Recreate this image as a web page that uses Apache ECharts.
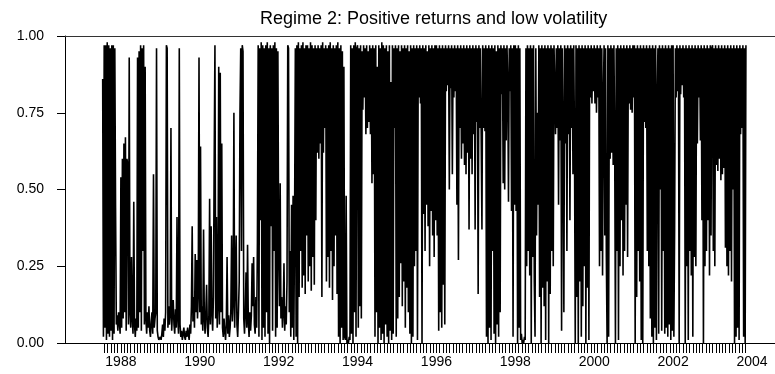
<!DOCTYPE html>
<html>
<head>
<meta charset="utf-8">
<script src="https://cdn.jsdelivr.net/npm/echarts@6/dist/echarts.min.js"></script>
<style>
html,body{margin:0;padding:0;background:#fff;}
#chart{width:775px;height:374px;}
</style>
</head>
<body>
<div id="chart"></div>
<script>
// Weekly smoothed probability of regime 2.
// 1987 starts at week 28 (mid-July 1987).
const firstWeek1987 = 28;
const w1987 = [.86,.02,.97,.05,.97,.01,.98,.03,.97,.02,.96,.04,.97,.01,.97,.03,.96,.44,.06,.09,.04,.1,.07,.03];
const w1988 = [.54,.05,.6,.08,.65,.1,.67,.04,.6,.58,.06,.93,.1,.05,.28,.08,.03,.46,.06,.02,.08,.04,.93,.05,.95,.1,.97,.04,.96,.3,.97,.06,.9,.08,.03,.1,.05,.12,.04,.02,.07,.1,.03,.55,.05,.08,.1,.96,.04,.02,.01,.01];
const w1989 = [.02,.01,.03,.06,.02,.08,.04,.1,.97,.96,.05,.12,.06,.09,.7,.04,.1,.14,.06,.03,.11,.05,.41,.08,.03,.96,.06,.02,.04,.01,.03,.05,.02,.01,.04,.02,.05,.03,.01,.06,.03,.12,.38,.07,.15,.05,.29,.1,.27,.08,.16,.93];
const w1990 = [.1,.64,.06,.12,.04,.37,.08,.03,.1,.19,.05,.02,.09,.47,.06,.38,.1,.04,.15,.59,.97,.08,.41,.05,.12,.9,.06,.88,.1,.65,.05,.02,.08,.04,.01,.06,.28,.03,.09,.02,.05,.11,.35,.07,.13,.75,.05,.2,.35,.06,.02,.1];
const w1991 = [.2,.75,.96,.3,.97,.95,.08,.03,.1,.23,.05,.32,.07,.02,.1,.04,.09,.26,.12,.28,.06,.03,.15,.05,.33,.97,.02,.96,.4,.98,.01,.97,.05,.96,.02,.97,.1,.98,.03,.96,0,.97,.38,.96,.04,.97,.3,.98,.02,.96,.05,.95];
const w1992 = [.3,.12,.52,.08,.15,.05,.1,.26,.04,.12,.06,.2,.97,.96,.1,.3,.02,.45,.05,.48,.01,.4,.96,.02,.97,0,.98,.15,.96,.3,.97,.18,.98,.22,.96,.16,.97,.35,.97,.2,.96,.25,.98,.17,.97,.28,.96,.19,.97,.4,.96,.62];
const w1993 = [.97,.6,.96,.65,.97,.15,.98,.62,.96,.7,.97,.2,.96,.28,.97,.18,.98,.3,.96,.14,.97,.25,.96,.35,.97,.16,.98,.02,.96,0,.97,.05,.95,.01,.9,.02,.01,.48,0,.01,0,.02,.01,.97,.03,.96,0,.97,.1,.98,.02,.96];
const w1994 = [.97,.05,.96,.12,.97,.08,.95,.76,.97,.8,.96,.68,.97,.7,.95,.72,.97,.68,.96,.52,.97,.55,.96,.02,.97,.1,.9,0,.97,.05,.96,.01,.98,.03,.97,0,.96,.06,.97,.02,.95,0,.97,.04,.85,.01,.97,.03,.96,.7,.97,.02];
const w1995 = [.96,.08,.97,.15,.95,.26,.97,.12,.96,.2,.97,.05,.96,.18,.97,.1,.95,.03,.97,0,.96,.02,.97,.25,.96,.3,.97,.01,.96,.8,.97,.78,.96,0,.97,.42,.96,.3,.97,.45,.95,.38,.97,.25,.96,.43,.97,.35,.96,.28,.97,.4];
const w1996 = [.97,.35,.96,.04,.97,.1,.96,.05,.97,.19,.96,.06,.97,.82,.96,.84,.97,.5,.96,.83,.97,.55,.96,.8,.97,.82,.96,.45,.97,.27,.96,.7,.97,.6,.96,.65,.97,.58,.96,.55,.97,.62,.96,.37,.97,.6,.96,.55,.97,.68,.96,.37];
const w1997 = [.97,.72,.96,.16,.97,.7,.96,.68,.37,.97,.7,.96,.69,.97,.02,.96,0,.97,.05,.96,.01,.97,.3,.96,.03,.97,0,.95,.06,.97,.02,.96,.1,.97,.81,.96,.52,.97,.5,.96,.66,.97,.85,.46,.96,.82,.97,.43,.96,.02,.97,.45];
const w1998 = [.97,.43,.96,0,.97,.05,.96,.01,.03,0,.01,0,.02,.01,.96,.25,.97,.3,.96,.22,.97,0,.96,.28,.97,.2,.02,.96,.35,.75,.45,.97,.15,.96,0,.97,.18,.96,.12,.97,.01,.96,.2,.97,0,.96,.16,.97,.3,.96,.25,.97];
const w1999 = [.97,.68,.96,.7,.97,.45,.96,.66,.97,.04,.96,.7,.1,.97,.65,.96,.3,.97,.68,.96,.4,.97,.7,.96,.55,.97,.66,0,.97,.15,.96,0,.97,.2,.96,.02,.97,.12,.96,.25,.97,0,.96,.18,.97,.01,.96,.8,.97,.78,.96,.82];
const w2000 = [.97,.78,.96,.75,.97,.8,.96,.25,.97,.3,.96,.22,.8,.97,.35,.96,.28,0,.97,.02,.96,.6,.97,.62,.96,.58,.97,.65,0,.96,.3,.97,.01,.96,.25,.97,.4,.96,.22,.97,.3,.96,.45,.97,.28,.96,.78,.97,.76,.96,.75,.97];
const w2001 = [.8,.97,0,.96,.15,.97,.3,.96,.2,.97,.01,.96,0,.97,.72,.96,.7,.97,.3,.96,.25,.97,.08,.96,.02,.97,0,.96,.05,.97,.01,.8,.96,.03,.97,.5,.96,.04,.97,.3,.96,.03,.97,.05,.96,.02,.97,.06,.96,.01,.97,.04];
const w2002 = [.97,.02,.37,.96,.8,.97,.82,.96,0,.97,.81,.96,.84,.97,.8,.96,0,.97,.25,.96,.01,.97,.3,.96,.22,.97,.02,.96,.28,.97,.25,.96,.65,.97,.8,.96,.66,.97,.4,.96,0,.97,.25,.96,.3,.97,.4,.96,.22,.97,.35,.96];
const w2003 = [.97,.3,.96,.25,.97,.58,.96,.56,.97,.6,.96,.53,.97,.55,.96,.57,.97,.31,.96,.25,.97,.22,.96,.3,.97,.2,.96,.5,.97,0,.96,.02,.97,.05,.96,.01,.97,.68,.96,.7,.97,.02,.96,0,.97];

const yearBlocks = [
  [1987, firstWeek1987, w1987], [1988, 0, w1988], [1989, 0, w1989], [1990, 0, w1990],
  [1991, 0, w1991], [1992, 0, w1992], [1993, 0, w1993], [1994, 0, w1994],
  [1995, 0, w1995], [1996, 0, w1996], [1997, 0, w1997], [1998, 0, w1998],
  [1999, 0, w1999], [2000, 0, w2000], [2001, 0, w2001], [2002, 0, w2002], [2003, 0, w2003]
];

const yearLabels = [1988, 1990, 1992, 1994, 1996, 1998, 2000, 2002, 2004];
const yTickLabels = ['0.00', '0.25', '0.50', '0.75', '1.00'];
const titleText = 'Regime 2: Positive returns and low volatility';

// observation dates as decimal years (weekly)
const data = [];
yearBlocks.forEach(([yr, w0, vals]) => {
  vals.forEach((v, i) => data.push([yr + (w0 + i) / 52, v]));
});

// axis range: Aug 1986 .. Aug 2004, one category per month for the tick axis
const XMIN = 1986 + 7 / 12, XMAX = 2004 + 7 / 12;
const monthCats = [];
for (let i = 0; i <= 216; i++) {
  const t = XMIN + i / 12;
  const y = Math.floor(t + 1e-9);
  const m = Math.round((t - y) * 12) + 1;
  monthCats.push(y + '-' + (m < 10 ? '0' : '') + m);
}
const firstTick = '1987-08', lastTick = '2003-11';
const tickFrom = monthCats.indexOf(firstTick), tickTo = monthCats.indexOf(lastTick);

const FONT = 'Liberation Sans, Arial, sans-serif';

const chart = echarts.init(document.getElementById('chart'), null, {renderer: 'canvas'});
chart.setOption({
  animation: false,
  backgroundColor: '#fff',
  title: {
    text: titleText, left: 255, top: 5,
    textStyle: {fontFamily: FONT, fontSize: 18, fontWeight: 'normal', color: '#000'}
  },
  grid: {left: 65, right: 0, top: 36, bottom: 31, containLabel: false},
  xAxis: [{
    type: 'value', min: XMIN, max: XMAX, position: 'bottom',
    axisLine: {show: true, lineStyle: {color: '#000', width: 1}},
    axisTick: {show: false},
    axisLabel: {show: true, customValues: yearLabels, margin: 12, fontSize: 14, fontFamily: FONT, color: '#000',
      formatter: v => String(Math.round(v))},
    splitLine: {show: false}
  }, {
    type: 'value', position: 'top', min: XMIN, max: XMAX,
    axisLine: {show: true, lineStyle: {color: '#333', width: 1}},
    axisTick: {show: false}, axisLabel: {show: false}, splitLine: {show: false}
  }, {
    type: 'category', position: 'bottom', data: monthCats, boundaryGap: false,
    axisLine: {show: false},
    axisTick: {show: true, length: 10, inside: false, lineStyle: {color: '#000', width: 1},
      interval: (i) => i >= tickFrom && i <= tickTo},
    axisLabel: {show: false}, splitLine: {show: false}
  }],
  yAxis: {
    type: 'value', min: 0, max: 1, interval: 0.25,
    axisLine: {show: true, lineStyle: {color: '#000', width: 1}},
    axisTick: {show: true, length: 8, lineStyle: {color: '#000'}},
    axisLabel: {margin: 21, fontSize: 14, fontFamily: FONT, color: '#000',
      formatter: v => yTickLabels[Math.round(v * 4)]},
    splitLine: {show: false}
  },
  series: [{
    type: 'line', xAxisIndex: 0, data: data,
    symbol: 'none', showSymbol: false,
    lineStyle: {color: '#000', width: 1.6},
    silent: true
  }]
});
</script>
</body>
</html>
